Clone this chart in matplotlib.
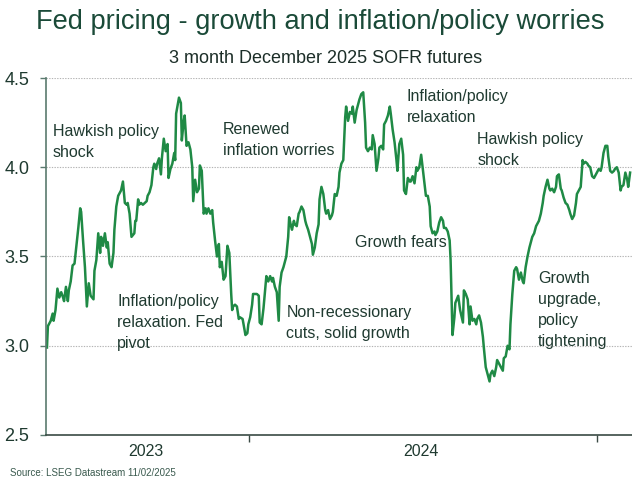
import numpy as np
import pandas as pd
import matplotlib
matplotlib.use("Agg")
import matplotlib.pyplot as plt
import matplotlib.dates as mdates

plt.rcParams['font.family'] = ['Liberation Sans', 'DejaVu Sans']

## the data: days since start date, December 2025 SOFR futures implied rate
start = pd.Timestamp('2023-06-02')
days = [0, 1, 4, 6, 7, 9, 11, 13, 15, 17, 18, 20, 22, 23, 25, 27, 29, 30, 31, 33,
        35, 36, 38, 40, 42, 44, 46, 49, 50, 52, 54, 56, 57, 59, 61, 63, 64, 66, 68, 70,
        71, 73, 75, 77, 78, 80, 82, 84, 85, 87, 89, 92, 93, 94, 96, 97, 99, 101, 103, 105,
        106, 108, 110, 112, 113, 115, 116, 118, 120, 121, 123, 125, 127, 128, 130, 132, 134, 135, 136, 139,
        141, 142, 144, 145, 147, 149, 151, 153, 154, 156, 158, 160, 161, 163, 165, 167, 168, 170, 172, 174,
        175, 177, 179, 181, 182, 184, 186, 188, 190, 192, 194, 195, 196, 198, 200, 202, 203, 206, 208, 209,
        211, 212, 214, 216, 217, 221, 223, 224, 226, 228, 230, 231, 233, 235, 237, 238, 240, 242, 244, 245,
        247, 249, 251, 252, 254, 255, 257, 258, 260, 261, 263, 265, 266, 268, 270, 272, 273, 275, 277, 279,
        280, 282, 284, 286, 287, 289, 291, 293, 294, 296, 298, 300, 301, 303, 305, 307, 308, 310, 312, 314,
        315, 317, 319, 321, 322, 324, 326, 328, 329, 331, 333, 335, 336, 338, 340, 342, 343, 345, 347, 349,
        350, 352, 354, 355, 357, 359, 361, 362, 364, 366, 368, 369, 371, 373, 375, 376, 378, 380, 382, 383,
        385, 387, 389, 390, 392, 394, 396, 397, 399, 401, 403, 404, 406, 408, 409, 411, 413, 415, 417, 418,
        420, 422, 424, 425, 426, 427, 429, 430, 433, 435, 438, 439, 441, 443, 445, 446, 448, 450, 452, 453,
        455, 457, 459, 460, 462, 464, 466, 467, 469, 471, 473, 474, 476, 478, 480, 481, 483, 485, 487, 488,
        490, 492, 494, 495, 497, 499, 501, 502, 504, 506, 508, 509, 511, 513, 515, 516, 518, 520, 522, 523,
        525, 527, 529, 530, 532, 534, 536, 537, 539, 541, 542, 544, 546, 548, 550, 551, 553, 555, 557, 558,
        560, 562, 564, 565, 567, 569, 570, 572, 574, 576, 577, 579, 581, 583, 584, 586, 588, 590, 591, 593,
        595, 597, 598, 600, 602, 604, 605, 607, 609, 611, 612, 614]
rate = [2.99, 3.11, 3.14, 3.18, 3.14, 3.20, 3.32, 3.27, 3.30, 3.27, 3.25, 3.33, 3.25, 3.31, 3.36, 3.45, 3.46, 3.51, 3.56, 3.66,
        3.77, 3.75, 3.59, 3.44, 3.22, 3.35, 3.28, 3.26, 3.42, 3.48, 3.63, 3.52, 3.61, 3.56, 3.63, 3.55, 3.58, 3.46, 3.44, 3.52,
        3.65, 3.78, 3.84, 3.86, 3.87, 3.92, 3.80, 3.79, 3.80, 3.74, 3.61, 3.63, 3.70, 3.70, 3.82, 3.79, 3.80, 3.79, 3.80, 3.81,
        3.84, 3.86, 3.90, 4.00, 4.02, 3.99, 4.02, 4.05, 3.96, 4.05, 4.16, 4.09, 4.13, 3.94, 3.99, 4.02, 4.08, 4.04, 4.30, 4.39,
        4.36, 4.15, 4.26, 4.29, 4.12, 4.14, 4.10, 4.00, 3.81, 3.93, 3.86, 3.88, 4.01, 3.98, 3.74, 3.77, 3.74, 3.77, 3.74, 3.76,
        3.69, 3.59, 3.50, 3.57, 3.44, 3.47, 3.37, 3.39, 3.56, 3.52, 3.29, 3.20, 3.22, 3.23, 3.22, 3.15, 3.16, 3.15, 3.09, 3.06,
        3.07, 3.12, 3.16, 3.23, 3.29, 3.29, 3.28, 3.13, 3.12, 3.21, 3.33, 3.39, 3.36, 3.39, 3.36, 3.38, 3.33, 3.30, 3.14, 3.33,
        3.41, 3.44, 3.48, 3.50, 3.61, 3.72, 3.67, 3.65, 3.70, 3.68, 3.67, 3.74, 3.75, 3.78, 3.76, 3.70, 3.68, 3.65, 3.61, 3.57,
        3.51, 3.55, 3.63, 3.68, 3.82, 3.89, 3.85, 3.76, 3.74, 3.76, 3.71, 3.73, 3.75, 3.85, 3.84, 3.89, 3.97, 4.02, 4.04, 4.28,
        4.34, 4.26, 4.31, 4.30, 4.34, 4.25, 4.32, 4.36, 4.38, 4.41, 4.42, 4.25, 4.11, 4.09, 4.11, 4.10, 4.18, 4.13, 3.98, 4.05,
        4.11, 4.12, 4.10, 4.24, 4.26, 4.29, 4.34, 4.30, 4.21, 4.14, 4.04, 3.98, 4.13, 4.16, 4.07, 3.87, 3.85, 3.94, 3.92, 3.92,
        3.95, 3.91, 4.00, 3.98, 4.00, 4.07, 3.98, 3.94, 3.84, 3.84, 3.78, 3.67, 3.63, 3.64, 3.62, 3.64, 3.69, 3.72, 3.70, 3.66,
        3.66, 3.64, 3.59, 3.48, 3.28, 3.06, 3.16, 3.24, 3.28, 3.20, 3.13, 3.31, 3.29, 3.26, 3.12, 3.22, 3.14, 3.15, 3.12, 3.15,
        3.17, 3.13, 3.05, 2.99, 2.88, 2.84, 2.80, 2.84, 2.86, 2.83, 2.88, 2.92, 2.90, 2.88, 2.86, 2.93, 2.94, 3.00, 2.98, 3.12,
        3.29, 3.42, 3.44, 3.43, 3.37, 3.41, 3.36, 3.35, 3.44, 3.50, 3.55, 3.57, 3.61, 3.63, 3.67, 3.68, 3.70, 3.74, 3.80, 3.84,
        3.89, 3.93, 3.88, 3.87, 3.88, 3.86, 3.89, 3.95, 3.96, 3.88, 3.87, 3.83, 3.80, 3.79, 3.76, 3.74, 3.71, 3.73, 3.80, 3.85,
        3.87, 3.89, 4.04, 4.02, 4.03, 4.02, 4.01, 4.00, 3.95, 3.94, 3.95, 3.97, 3.99, 3.98, 4.00, 4.08, 4.12, 4.12, 4.06, 3.98,
        3.97, 3.98, 3.99, 4.00, 3.97, 3.87, 3.89, 3.90, 3.97, 3.93, 3.89, 3.97]

dates = start + pd.to_timedelta(days, unit='D')

## annotations (date, level at top of text, text)
notes = [('2023-06-08', 4.245, 'Hawkish policy\nshock'),
         ('2023-08-15', 3.29, 'Inflation/policy\nrelaxation. Fed\npivot'),
         ('2023-12-04', 4.255, 'Renewed\ninflation worries'),
         ('2024-02-09', 3.23, 'Non-recessionary\ncuts, solid growth'),
         ('2024-06-15', 4.44, 'Inflation/policy\nrelaxation'),
         ('2024-04-21', 3.62, 'Growth fears'),
         ('2024-08-28', 4.20, 'Hawkish policy\nshock'),
         ('2024-10-31', 3.42, 'Growth\nupgrade,\npolicy\ntightening')]

dark = '#1f3a30'
line_green = '#1f8a45'

fig = plt.figure(figsize=(6.32, 4.78), dpi=100)
ax = fig.add_axes([0.0728, 0.090, 0.9272, 0.7468])

ax.plot(dates, rate, color=line_green, lw=1.8, solid_joinstyle='round')

ax.set_ylim(2.5, 4.5)
ax.set_xlim(pd.Timestamp('2023-06-01'), pd.Timestamp('2025-02-07'))
ax.set_yticks([2.5, 3.0, 3.5, 4.0, 4.5])
ax.set_yticklabels(['2.5', '3.0', '3.5', '4.0', '4.5'])
for v in [3.0, 3.5, 4.0, 4.5]:
    ax.axhline(v, color='#b4b4b4', lw=0.8, ls=(0, (1.2, 1.2)), zorder=0)

# year boundary ticks, labels in the middle of each visible year
ax.set_xticks([pd.Timestamp('2024-01-01'), pd.Timestamp('2025-01-01')])
ax.set_xticklabels([])
ax.tick_params(axis='x', length=5, width=1, color='#3a4a44', direction='out')
ax.tick_params(axis='y', length=4, width=1, color='#5a7a6e', direction='out',
               labelsize=13, labelcolor=dark, pad=8)
for lab, d in [('2023', pd.Timestamp('2023-09-14')), ('2024', pd.Timestamp('2024-06-30'))]:
    ax.text(mdates.date2num(d), -0.026, lab, transform=ax.get_xaxis_transform(),
            ha='center', va='top', fontsize=11.5, color=dark)

for s in ['top', 'right']:
    ax.spines[s].set_visible(False)
ax.spines['left'].set_color('#5a7a6e')
ax.spines['bottom'].set_color('#3a4a44')
ax.spines['left'].set_linewidth(1.2)
ax.spines['bottom'].set_linewidth(1.2)

for d, y, t in notes:
    ax.text(pd.Timestamp(d), y, t, fontsize=11.5, color=dark, va='top', ha='left',
            linespacing=1.5)

fig.text(320 / 632, 0.953, 'Fed pricing - growth and inflation/policy worries', ha='center',
         va='center', fontsize=19.6, color='#1a4a38')
fig.text(326 / 632, 0.877, '3 month December 2025 SOFR futures', ha='center', va='center',
         fontsize=13, color='#1c2e28')
fig.text(0.016, 0.011, 'Source: LSEG Datastream 11/02/2025', ha='left', va='center',
         fontsize=7, color='#3a5a4e')

fig.savefig('out.png', dpi=100)
